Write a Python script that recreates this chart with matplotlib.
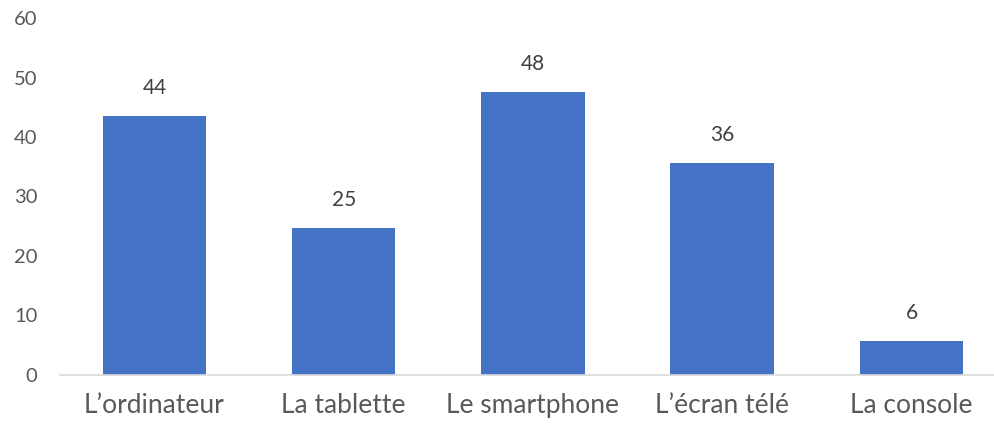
import matplotlib
matplotlib.use('Agg')
import matplotlib.pyplot as plt

# Chart data
categories = ["L\u2019ordinateur", "La tablette", "Le smartphone", "L\u2019\u00e9cran t\u00e9l\u00e9", "La console"]
values = [43.6, 24.6, 47.6, 35.6, 5.6]

plt.rcParams['font.family'] = ['Lato', 'DejaVu Sans']

fig = plt.figure(figsize=(9.94, 4.24), dpi=100)
ax = fig.add_axes([0.0602, 0.1167, 0.952, 0.840])

bars = ax.bar(range(len(categories)), values, width=0.547, color='#4472C4')

# Value labels above the bars
for bar, v in zip(bars, values):
    ax.annotate(f'{round(v)}', (bar.get_x() + bar.get_width() / 2, v),
                xytext=(0, 13), textcoords='offset points',
                ha='center', va='bottom', fontsize=15, color='#404040')

ax.set_xlim(-0.5, len(categories) - 0.5)
ax.set_ylim(0, 60)
ax.set_yticks(range(0, 61, 10))
ax.set_xticks(range(len(categories)))
ax.set_xticklabels(categories)

for side in ['top', 'right', 'left']:
    ax.spines[side].set_visible(False)
ax.spines['bottom'].set_color('#D9D9D9')
ax.spines['bottom'].set_linewidth(1.2)

ax.tick_params(axis='y', length=0, pad=16, labelsize=14.5, labelcolor='#595959')
ax.tick_params(axis='x', length=0, pad=13, labelsize=19, labelcolor='#595959')

plt.savefig('out.png', dpi=100)
plt.close(fig)
